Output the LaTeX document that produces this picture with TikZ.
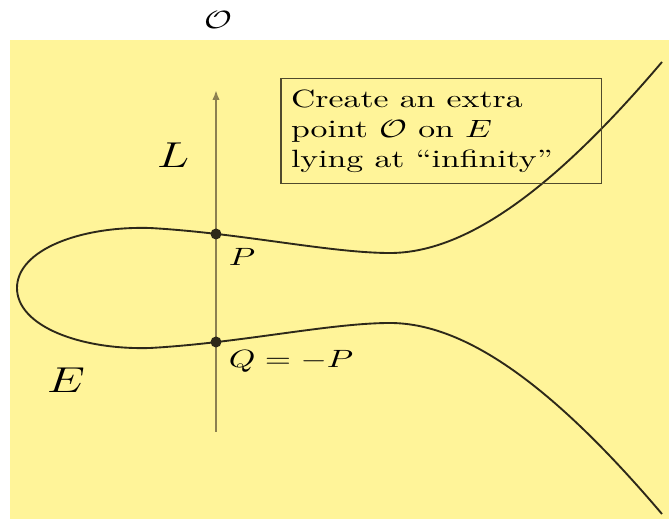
\documentclass[tikz,border=0pt]{standalone}
\usepackage{amsmath, amssymb}
\usepackage{tikz}
\usetikzlibrary{arrows.meta,calc,positioning}
\definecolor{paleyellow}{RGB}{255,244,153}
\definecolor{curvecol}{RGB}{45,40,25}
\definecolor{linecol}{RGB}{140,128,80}
\definecolor{boxcol}{RGB}{80,74,45}

\begin{document}
\begin{tikzpicture}[x=0.4pt,y=-0.4pt, wide/.style={xscale=1.35}]
      \useasboundingbox (0,0) rectangle (669,519);
      %Color fill
      \fill[paleyellow] (10,40) rectangle (669,519);
      \node[wide] (inf) at (218,20) {$\mathcal O$};
      %Points on L
      \coordinate (lbot) at (216,432);
      \coordinate (ltop) at (216,90);
      \coordinate (p) at (216,234);
      \coordinate (q) at (216,342);
      %Draw the curve E
      \draw[curvecol, line width=0.75pt] (662,62)
          .. controls (560,182) and (470,253) .. (390,253)
          .. controls (330,253) and (240,233) .. (150,228)
          .. controls (80,226) and (17,250) .. (17,288)
          .. controls (17,326) and (80,350) .. (150,348)
          .. controls (240,343) and (330,323) .. (390,323)
          .. controls (470,323) and (560,394) .. (662,514);
      %Draw the line L
      \draw[linecol, line width=0.8pt, -{Latex[length=4pt,width=3pt]}] (lbot) -- (ltop);
      \fill[curvecol] (p) circle (2.2pt);
      \fill[curvecol] (q) circle (2.2pt);
      %Draw labels
      \node[wide, anchor=west] (plabel) at (217,257) {$P$};
      \node[wide, anchor=west] (qlabel) at (217,361) {$Q=-P$};
      \node[wide] (lname) at (173,155) {\Large $L$};
      \node[wide] (ename) at (66,380) {\Large $E$};
      \node[wide, draw=boxcol, line width=0.55pt, anchor=north west, align=left,
            text width=89pt, minimum height=42pt, inner xsep=3pt, inner ysep=4pt]
            (note) at (280,78) {Create an extra\\point $\mathcal O$ on $E$\\lying at ``infinity''};
    \end{tikzpicture}
\end{document}
